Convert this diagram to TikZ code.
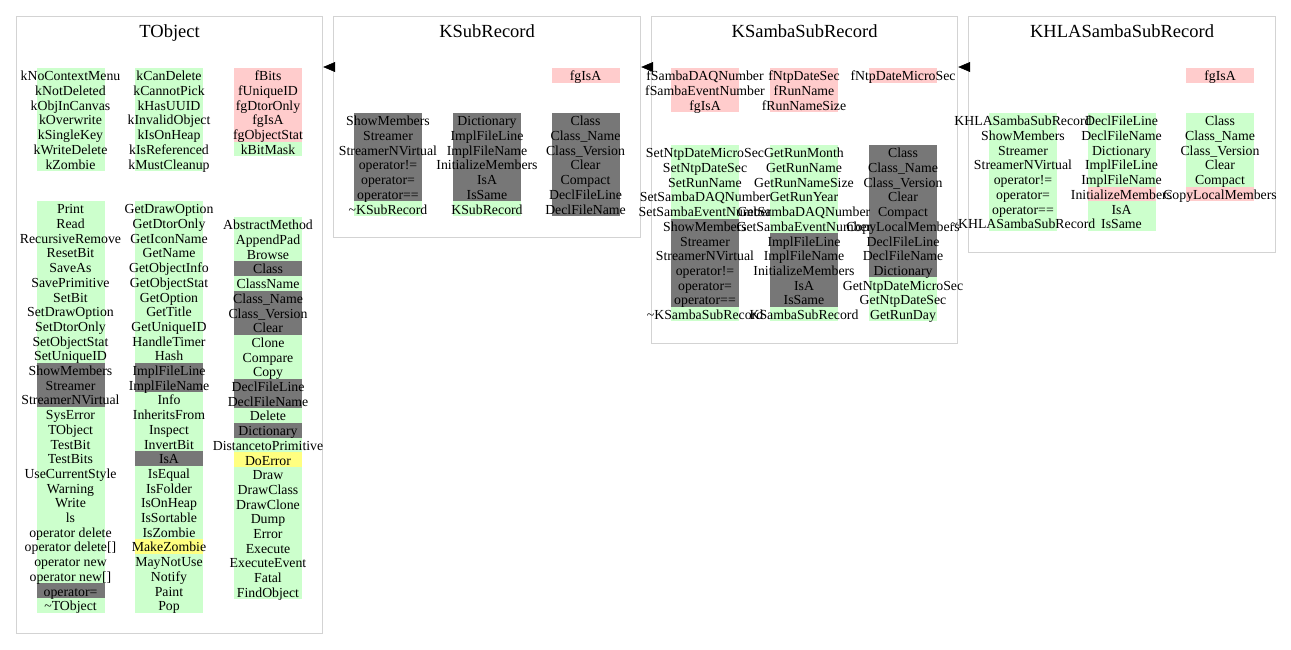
\documentclass[tikz,border=0pt]{standalone}
\usepackage{fontspec}
\setmainfont{Liberation Serif}
\usetikzlibrary{arrows.meta,backgrounds}

\definecolor{G}{HTML}{CCFFCC}
\definecolor{R}{HTML}{FFCCCC}
\definecolor{D}{HTML}{777777}
\definecolor{Y}{HTML}{FFFF80}
\definecolor{framegray}{HTML}{D3D3D3}

\tikzset{
  frame/.style={draw=framegray, line width=1.2pt, anchor=north west, inner sep=0pt},
  title/.style={font=\fontsize{18.5}{20}\selectfont, inner sep=0pt, text height=12.5pt, text depth=0pt},
  cell/.style={minimum width=68pt, minimum height=14.7pt, inner sep=0pt, draw=none},
  member/.style={font=\fontsize{13.8}{14.7}\selectfont, inner sep=0pt, text height=11pt, text depth=0pt},
  inherit/.style={-{Triangle[length=12pt,width=10pt]}, line width=0.6pt}
}

% one column of members: name, x centre, y top, list of colour/text
\newcommand{\memcol}[4]{%
  \foreach \col/\txt [count=\row] in {#4} {
    \begin{pgfonlayer}{background}
      \node[cell, fill=\col] (#1-\row) at ({#2}, {#3+14.7*\row-7.35}) {};
    \end{pgfonlayer}
    \node[member] at (#1-\row) {\makebox[68pt]{\txt}};
  }%
}

\begin{document}
\begin{tikzpicture}[x=1pt,y=-1pt]
\useasboundingbox (0,0) rectangle (1291,649);

% class frames
\node[frame, minimum width=306pt, minimum height=617pt] (TObject) at (16,16) {};
\node[frame, minimum width=307pt, minimum height=221pt] (KSubRecord) at (333,16) {};
\node[frame, minimum width=306pt, minimum height=327pt] (KSambaSubRecord) at (651,16) {};
\node[frame, minimum width=307pt, minimum height=236pt] (KHLASambaSubRecord) at (968,16) {};

\node[title] at ([yshift=-15pt]TObject.north) {TObject};
\node[title] at ([yshift=-15pt]KSubRecord.north) {KSubRecord};
\node[title] at ([yshift=-15pt]KSambaSubRecord.north) {KSambaSubRecord};
\node[title] at ([yshift=-15pt]KHLASambaSubRecord.north) {KHLASambaSubRecord};

% TObject
\memcol{to-d1}{70.5}{68}{G/kNoContextMenu, G/kNotDeleted, G/kObjInCanvas, G/kOverwrite, G/kSingleKey, G/kWriteDelete, G/kZombie}
\memcol{to-d2}{169}{68}{G/kCanDelete, G/kCannotPick, G/kHasUUID, G/kInvalidObject, G/kIsOnHeap, G/kIsReferenced, G/kMustCleanup}
\memcol{to-d3}{268}{68}{R/fBits, R/fUniqueID, R/fgDtorOnly, R/fgIsA, R/fgObjectStat, G/kBitMask}
\memcol{to-m1}{70.5}{201}{G/Print, G/Read, G/RecursiveRemove, G/ResetBit, G/SaveAs, G/SavePrimitive, G/SetBit, G/SetDrawOption, G/SetDtorOnly, G/SetObjectStat, G/SetUniqueID, D/ShowMembers, D/Streamer, D/StreamerNVirtual, G/SysError, G/TObject, G/TestBit, G/TestBits, G/UseCurrentStyle, G/Warning, G/Write, G/ls, G/operator delete, G/operator delete[], G/operator new, G/operator new[], D/operator=, G/\textasciitilde TObject}
\memcol{to-m2}{169}{201}{G/GetDrawOption, G/GetDtorOnly, G/GetIconName, G/GetName, G/GetObjectInfo, G/GetObjectStat, G/GetOption, G/GetTitle, G/GetUniqueID, G/HandleTimer, G/Hash, D/ImplFileLine, D/ImplFileName, G/Info, G/InheritsFrom, G/Inspect, G/InvertBit, D/IsA, G/IsEqual, G/IsFolder, G/IsOnHeap, G/IsSortable, G/IsZombie, Y/MakeZombie, G/MayNotUse, G/Notify, G/Paint, G/Pop}
\memcol{to-m3}{268}{217}{G/AbstractMethod, G/AppendPad, G/Browse, D/Class, G/ClassName, D/Class\_Name, D/Class\_Version, D/Clear, G/Clone, G/Compare, G/Copy, D/DeclFileLine, D/DeclFileName, G/Delete, D/Dictionary, G/DistancetoPrimitive, Y/DoError, G/Draw, G/DrawClass, G/DrawClone, G/Dump, G/Error, G/Execute, G/ExecuteEvent, G/Fatal, G/FindObject}

% KSubRecord
\memcol{ks-d3}{585.5}{68}{R/fgIsA}
\memcol{ks-m1}{388}{113}{D/ShowMembers, D/Streamer, D/StreamerNVirtual, D/operator!=, D/operator=, D/operator==, G/\textasciitilde KSubRecord}
\memcol{ks-m2}{487}{113}{D/Dictionary, D/ImplFileLine, D/ImplFileName, D/InitializeMembers, D/IsA, D/IsSame, G/KSubRecord}
\memcol{ks-m3}{585.5}{113}{D/Class, D/Class\_Name, D/Class\_Version, D/Clear, D/Compact, D/DeclFileLine, D/DeclFileName}

% KSambaSubRecord
\memcol{kss-d1}{705}{68}{R/fSambaDAQNumber, R/fSambaEventNumber, R/fgIsA}
\memcol{kss-d2}{804}{68}{R/fNtpDateSec, R/fRunName, R/fRunNameSize}
\memcol{kss-d3}{903}{68}{R/fNtpDateMicroSec}
\memcol{kss-m1}{705}{145}{G/SetNtpDateMicroSec, G/SetNtpDateSec, G/SetRunName, G/SetSambaDAQNumber, G/SetSambaEventNumber, D/ShowMembers, D/Streamer, D/StreamerNVirtual, D/operator!=, D/operator=, D/operator==, G/\textasciitilde KSambaSubRecord}
\memcol{kss-m2}{804}{145}{G/GetRunMonth, G/GetRunName, G/GetRunNameSize, G/GetRunYear, G/GetSambaDAQNumber, G/GetSambaEventNumber, D/ImplFileLine, D/ImplFileName, D/InitializeMembers, D/IsA, D/IsSame, G/KSambaSubRecord}
\memcol{kss-m3}{903}{145}{D/Class, D/Class\_Name, D/Class\_Version, D/Clear, D/Compact, D/CopyLocalMembers, D/DeclFileLine, D/DeclFileName, D/Dictionary, G/GetNtpDateMicroSec, G/GetNtpDateSec, G/GetRunDay}

% KHLASambaSubRecord
\memcol{kh-d3}{1220}{68}{R/fgIsA}
\memcol{kh-m1}{1023}{113}{G/KHLASambaSubRecord, G/ShowMembers, G/Streamer, G/StreamerNVirtual, G/operator!=, G/operator=, G/operator==, G/\textasciitilde KHLASambaSubRecord}
\memcol{kh-m2}{1121.5}{113}{G/DeclFileLine, G/DeclFileName, G/Dictionary, G/ImplFileLine, G/ImplFileName, R/InitializeMembers, G/IsA, G/IsSame}
\memcol{kh-m3}{1220}{113}{G/Class, G/Class\_Name, G/Class\_Version, G/Clear, G/Compact, R/CopyLocalMembers}

% inheritance
\draw[inherit] ([yshift=-51pt]KSubRecord.north west) -- ([yshift=-51pt]TObject.north east);
\draw[inherit] ([yshift=-51pt]KSambaSubRecord.north west) -- ([yshift=-51pt]KSubRecord.north east);
\draw[inherit] ([yshift=-51pt]KHLASambaSubRecord.north west) -- ([yshift=-51pt]KSambaSubRecord.north east);
\end{tikzpicture}
\end{document}
